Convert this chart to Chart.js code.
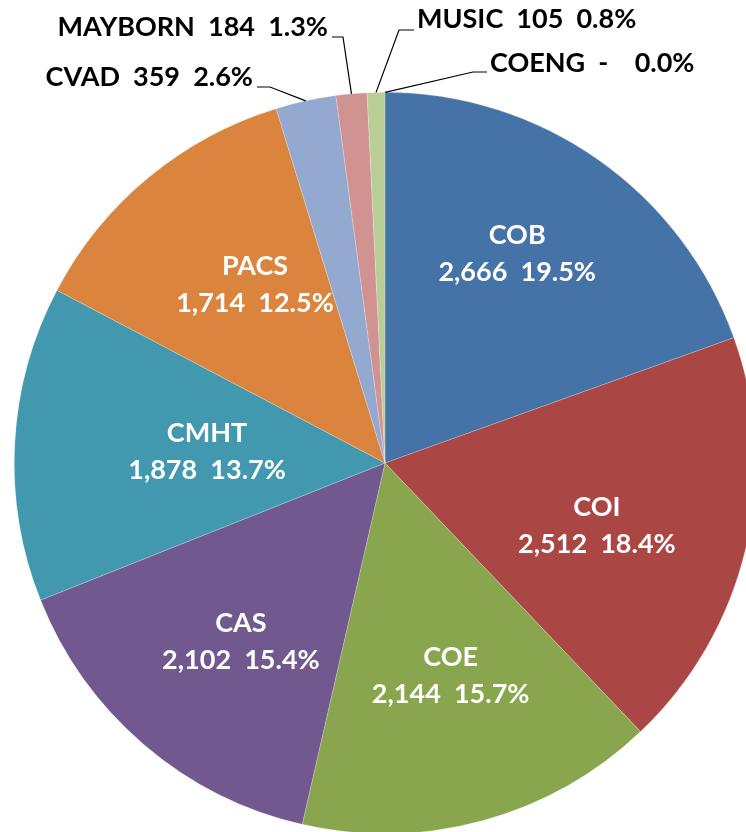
<!DOCTYPE html>
<html><head><meta charset="utf-8">
<script src="https://cdn.jsdelivr.net/npm/chart.js@4.4.1/dist/chart.umd.min.js"></script>
<style>
html,body{margin:0;padding:0;overflow:hidden;background:#fff;width:746px;height:832px}
#wrap{position:absolute;left:0;top:0;width:770px;height:926px}
</style>
</head><body><div id="wrap"><canvas id="c" width="770" height="926"></canvas></div>
<script>
const categories = ['COB','COI','COE','CAS','CMHT','PACS','CVAD','MAYBORN','MUSIC','COENG'];
const values = [2666, 2512, 2144, 2102, 1878, 1714, 359, 184, 105, 0];
const colors = ['#4572A7','#AA4643','#89A54E','#71588F','#4198AF','#DB843D','#93A9CF','#D19392','#B9CD96','#A99BBD'];

// label layout (not data): radial fraction + angle nudge (deg) for inside labels, text anchors for outside labels
const insideLabelRadius = {COB:0.667, COI:0.596, COE:0.601, CAS:0.619, CMHT:0.481, PACS:0.596};
const insideLabelNudge  = {COB:-2.8, COI:3.1, COE:-1.8, CAS:-1.7, CMHT:0.5, PACS:3.6};
const outsideLabels = {
  CVAD:    {align:'right', x:253, y:86, lineDy:1, run:13},
  MAYBORN: {align:'right', x:328, y:36, lineDy:1, run:11},
  MUSIC:   {align:'left',  x:417, y:28, lineDy:2, run:15},
  COENG:   {align:'left',  x:490, y:72, lineDy:0, run:14}
};
const FONT = 'bold 27px Lato, "Open Sans", sans-serif';

const total = values.reduce((a,b)=>a+b,0);
function valText(v){ return v === 0 ? '-  ' : v.toLocaleString('en-US'); }
function pctText(v){ return (v/total*100).toFixed(1) + '%'; }

const labelPlugin = {
  id: 'sliceLabels',
  afterDatasetsDraw(chart){
    const ctx = chart.ctx;
    const meta = chart.getDatasetMeta(0);
    ctx.save();
    ctx.font = FONT;
    meta.data.forEach((arc, i) => {
      const p = arc.getProps(['x','y','startAngle','endAngle','outerRadius'], true);
      const mid = (p.startAngle + p.endAngle) / 2;
      const name = categories[i];
      const v = values[i];
      if (insideLabelRadius[name] !== undefined) {
        const a = mid + insideLabelNudge[name] * Math.PI / 180;
        const r = p.outerRadius * insideLabelRadius[name];
        const cx = p.x + r * Math.cos(a);
        const cy = p.y + r * Math.sin(a);
        ctx.fillStyle = '#ffffff';
        ctx.textAlign = 'center';
        ctx.textBaseline = 'middle';
        ctx.fillText(name, cx, cy - 18.5);
        ctx.fillText(valText(v) + '  ' + pctText(v), cx, cy + 18.5);
      } else if (outsideLabels[name]) {
        const o = outsideLabels[name];
        const txt = name + '  ' + valText(v) + '  ' + pctText(v);
        ctx.fillStyle = '#000000';
        ctx.textAlign = o.align;
        ctx.textBaseline = 'alphabetic';
        ctx.fillText(txt, o.x, o.y);
        const ax = p.x + p.outerRadius * Math.cos(mid);
        const ay = p.y + p.outerRadius * Math.sin(mid);
        const sx = o.align === 'right' ? o.x + 4 : o.x - 3;
        const bx = o.align === 'right' ? sx + o.run : sx - o.run;
        const ly = o.y + o.lineDy;
        ctx.strokeStyle = '#000000';
        ctx.lineWidth = 1.2;
        ctx.beginPath();
        ctx.moveTo(sx, ly);
        ctx.lineTo(bx, ly);
        ctx.lineTo(ax, ay);
        ctx.stroke();
      }
    });
    ctx.restore();
  }
};

new Chart(document.getElementById('c'), {
  type: 'pie',
  data: {
    labels: categories,
    datasets: [{
      data: values,
      backgroundColor: colors,
      borderColor: 'rgba(255,255,255,0.35)',
      borderWidth: 0.6
    }]
  },
  options: {
    responsive: false,
    animation: false,
    devicePixelRatio: 1,
    layout: {padding: 14},
    plugins: {legend: {display:false}, tooltip: {enabled:false}}
  },
  plugins: [labelPlugin]
});
</script>
</body></html>
